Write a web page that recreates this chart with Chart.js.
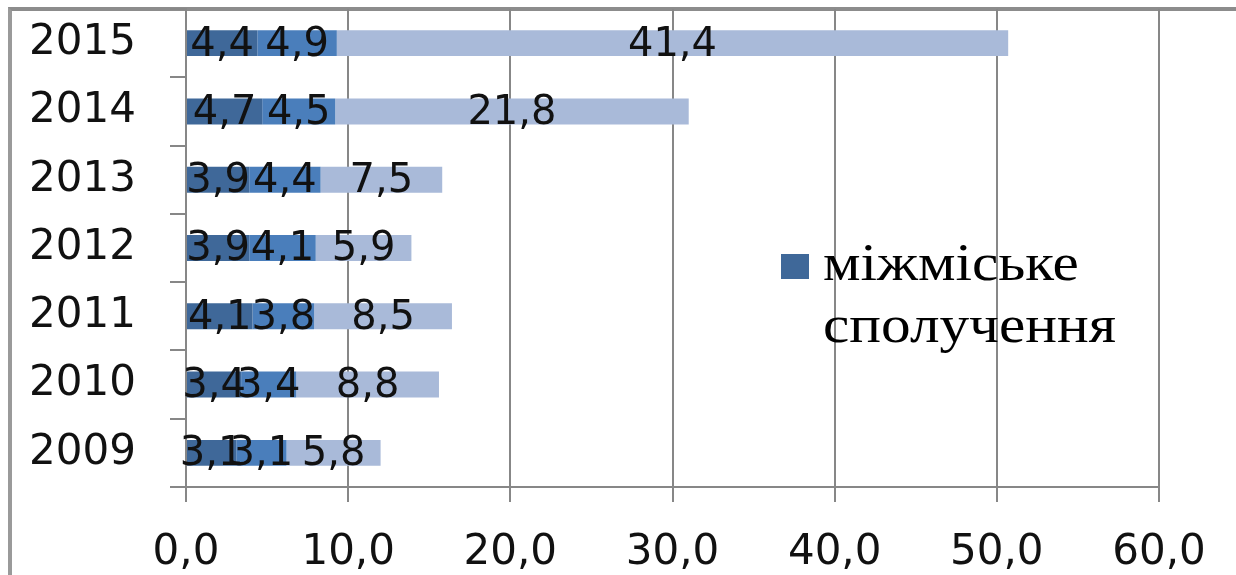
<!DOCTYPE html>
<html>
<head>
<meta charset="utf-8">
<script src="https://cdn.jsdelivr.net/npm/chart.js@4.4.0/dist/chart.umd.min.js"></script>
<style>
    body { margin: 0; background: #ffffff; }
    #moldura {
        position: absolute; left: 0; top: 0; width: 1236px; height: 575px;
        background: #ffffff; overflow: hidden;
    }
    #borda {
        position: absolute; left: 8px; top: 7px; width: 1240px; height: 600px;
        border-top: 4px solid #8c8c8c; border-left: 4px solid #9a9a9a;
    }
    #grafico { position: absolute; left: 0; top: 0; }
    #legenda {
        position: absolute; left: 781px; top: 232px;
        font-family: "Liberation Serif", serif; font-size: 52px; line-height: 62px; color: #000;
    }
    #legenda .quadrado {
        position: absolute; left: 0; top: 22px; width: 28px; height: 25px;
    }
    #legenda .texto {
        position: absolute; left: 42px; top: 0; white-space: nowrap;
        transform: scaleX(1.14); transform-origin: left top;
    }
</style>
</head>
<body>
<div id="moldura">
    <div id="borda"></div>
    <canvas id="grafico" width="1236" height="575"></canvas>
    <div id="legenda"></div>
</div>
<script>
// dados (2009 -> 2015)
var anos = ['2009', '2010', '2011', '2012', '2013', '2014', '2015'];
var serieMizhmiske = [3.1, 3.4, 4.1, 3.9, 3.9, 4.7, 4.4];
var serieDois = [3.1, 3.4, 3.8, 4.1, 4.4, 4.5, 4.9];
var serieTres = [5.8, 8.8, 8.5, 5.9, 7.5, 21.8, 41.4];
var ticksX = [0, 10, 20, 30, 40, 50, 60];

var corCinza = '#878787';
var fonteNumeros = 'DejaVu Sans';

function formatar(v) {
    return v.toFixed(1).replace('.', ',');
}

// rótulos dentro de cada segmento
const pluginRotulos = {
    id: 'rotulos',
    afterDatasetsDraw(chart) {
        const ctx = chart.ctx;
        ctx.save();
        ctx.font = '40px "' + fonteNumeros + '"';
        ctx.fillStyle = '#111111';
        ctx.textAlign = 'center';
        ctx.textBaseline = 'middle';
        chart.data.datasets.forEach((ds, i) => {
            const meta = chart.getDatasetMeta(i);
            meta.data.forEach((el, j) => {
                const x = (el.x + el.base) / 2;
                ctx.fillText(formatar(ds.data[j]), x, el.y + 2);
            });
        });
        ctx.restore();
    }
};

const dados = {
    labels: anos,
    datasets: [
        { label: 'міжміське сполучення', data: serieMizhmiske, backgroundColor: '#3f6899' },
        { label: 'серія 2', data: serieDois, backgroundColor: '#4a7ebb' },
        { label: 'серія 3', data: serieTres, backgroundColor: '#a9bad9' }
    ]
};

const config = {
    type: 'bar',
    data: dados,
    options: {
        indexAxis: 'y',
        responsive: false,
        animation: false,
        barPercentage: 0.38,
        categoryPercentage: 1,
        layout: { padding: { top: 9, right: 77, left: 0, bottom: 0 } },
        plugins: {
            legend: { display: false },
            tooltip: { enabled: false }
        },
        scales: {
            x: {
                stacked: true,
                min: 0,
                max: 60,
                afterBuildTicks: (scale) => { scale.ticks = ticksX.map(v => ({ value: v })); },
                afterFit: (scale) => {
                    scale.height = 88;
                    scale.paddingLeft = 0;
                    scale.paddingRight = 0;
                },
                ticks: {
                    callback: (v) => formatar(v),
                    font: { family: fonteNumeros, size: 42 },
                    color: '#111111',
                    padding: 26,
                    maxRotation: 0
                },
                grid: { color: corCinza, lineWidth: 2, tickLength: 15, tickColor: corCinza },
                border: { display: true, color: corCinza, width: 2 }
            },
            y: {
                stacked: true,
                reverse: true,
                afterFit: (scale) => {
                    scale.width = 186;
                    scale.paddingTop = 0;
                    scale.paddingBottom = 0;
                },
                ticks: {
                    font: { family: fonteNumeros, size: 42 },
                    color: '#111111',
                    padding: 34
                },
                grid: { drawOnChartArea: false, drawTicks: true, tickLength: 16, color: corCinza, lineWidth: 2, offset: true },
                border: { display: true, color: corCinza, width: 2 }
            }
        }
    },
    plugins: [pluginRotulos]
};

new Chart(document.getElementById('grafico'), config);

// legenda só com a primeira série, como no original
var legenda = document.getElementById('legenda');
var quadrado = document.createElement('div');
quadrado.classList.add('quadrado');
quadrado.style.background = dados.datasets[0].backgroundColor;
var texto = document.createElement('div');
texto.classList.add('texto');
texto.innerHTML = dados.datasets[0].label.replace(' ', '<br>');
legenda.appendChild(quadrado);
legenda.appendChild(texto);
</script>
</body>
</html>
